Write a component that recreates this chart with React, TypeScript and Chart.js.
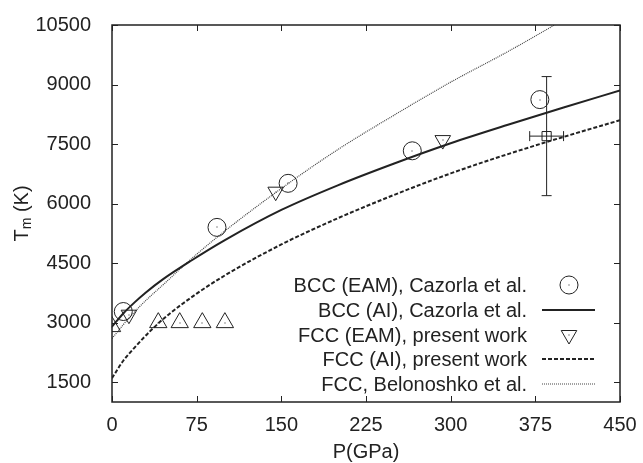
import React, { useEffect, useRef } from "react";
import { Chart, registerables } from "chart.js";

Chart.register(...registerables);

// ---- data ----
const xTicks = [0, 75, 150, 225, 300, 375, 450];
const yTicks = [1500, 3000, 4500, 6000, 7500, 9000, 10500];

const legendLabels = [
  "BCC (EAM), Cazorla et al.",
  "BCC (AI), Cazorla et al.",
  "FCC (EAM), present work",
  "FCC (AI), present work",
  "FCC, Belonoshko et al.",
];

const bccEamP = [10, 93, 156, 266, 379];
const bccEamT = [3280, 5400, 6510, 7330, 8620];

const bccAiP = [0, 10, 20, 30, 45, 70, 100, 150, 200, 250, 300, 350, 400, 450];
const bccAiT = [2900, 3230, 3510, 3760, 4090, 4560, 5080, 5840, 6460, 7010, 7520, 7980, 8420, 8850];

const fccEamP = [15, 145, 293];
const fccEamT = [3200, 6300, 7600];

const fccAiP = [0, 10, 20, 35, 50, 75, 100, 150, 200, 250, 300, 350, 400, 450];
const fccAiT = [1600, 2040, 2370, 2820, 3200, 3730, 4190, 4970, 5630, 6220, 6760, 7240, 7680, 8100];

const belP = [0, 10, 25, 47, 70, 100, 150, 200, 250, 300, 350, 392, 400];
const belT = [2600, 2950, 3420, 4000, 4600, 5310, 6380, 7360, 8230, 9060, 9820, 10500, 10630];

const fccOtherP = [0, 41, 60, 80, 100];
const fccOtherT = [2900, 3000, 3000, 3000, 3000];

const errP = [385];
const errT = [7700];
const errPLow = [370];
const errPHigh = [400];
const errTLow = [6200];
const errTHigh = [9200];

const FONT = '"Liberation Sans", Arial, Helvetica, sans-serif';
const FS = 20;
const INK = "#222";

const pts = (xs: number[], ys: number[]) => xs.map((v, i) => ({ x: v, y: ys[i] }));

const decorPlugin = {
  id: "decor",
  afterDatasetsDraw(chart: any) {
    const { ctx, chartArea: a, scales } = chart;
    const x = scales.x;
    const y = scales.y;
    ctx.save();
    ctx.strokeStyle = INK;
    ctx.fillStyle = INK;

    // error bars
    ctx.lineWidth = 1;
    for (let i = 0; i < errP.length; i++) {
      const px = x.getPixelForValue(errP[i]);
      const py = y.getPixelForValue(errT[i]);
      const yl = y.getPixelForValue(errTLow[i]);
      const yh = y.getPixelForValue(errTHigh[i]);
      const xl = x.getPixelForValue(errPLow[i]);
      const xh = x.getPixelForValue(errPHigh[i]);
      ctx.beginPath();
      ctx.moveTo(px, yl); ctx.lineTo(px, yh);
      ctx.moveTo(px - 5, yl); ctx.lineTo(px + 5, yl);
      ctx.moveTo(px - 5, yh); ctx.lineTo(px + 5, yh);
      ctx.moveTo(xl, py); ctx.lineTo(xh, py);
      ctx.moveTo(xl, py - 5); ctx.lineTo(xl, py + 5);
      ctx.moveTo(xh, py - 5); ctx.lineTo(xh, py + 5);
      ctx.stroke();
    }

    // centre dots of open markers
    const dotP = [...bccEamP, ...fccEamP, ...fccOtherP];
    const dotT = [...bccEamT, ...fccEamT, ...fccOtherT];
    for (let i = 0; i < dotP.length; i++) {
      const px = x.getPixelForValue(dotP[i]);
      const py = y.getPixelForValue(dotT[i]);
      ctx.fillRect(Math.round(px) - 0.5, Math.round(py) - 0.5, 1, 1);
    }

    // frame
    ctx.lineWidth = 1.5;
    ctx.strokeRect(a.left, a.top, a.right - a.left, a.bottom - a.top);

    // inward ticks, mirrored
    ctx.lineWidth = 1;
    ctx.beginPath();
    xTicks.forEach((v) => {
      const px = Math.round(x.getPixelForValue(v)) + 0.5;
      ctx.moveTo(px, a.bottom); ctx.lineTo(px, a.bottom - 6);
      ctx.moveTo(px, a.top); ctx.lineTo(px, a.top + 6);
    });
    yTicks.forEach((v) => {
      const py = Math.round(y.getPixelForValue(v)) + 0.5;
      ctx.moveTo(a.left, py); ctx.lineTo(a.left + 6, py);
      ctx.moveTo(a.right, py); ctx.lineTo(a.right - 6, py);
    });
    ctx.stroke();

    // legend (inside, bottom right)
    const textRight = a.right - 93;
    const sx1 = a.right - 78;
    const sx2 = a.right - 25;
    const sym = a.right - 51;
    const rows = [117, 92, 67, 43, 18].map((d) => a.bottom - d);
    ctx.font = `${FS}px ${FONT}`;
    ctx.textAlign = "right";
    ctx.textBaseline = "middle";
    legendLabels.forEach((t, i) => ctx.fillText(t, textRight, rows[i] + 1));

    // symbols
    ctx.lineWidth = 1;
    ctx.beginPath();
    ctx.arc(sym, rows[0], 9, 0, Math.PI * 2);
    ctx.stroke();
    ctx.fillRect(sym - 0.5, rows[0] - 0.5, 1, 1);

    ctx.lineWidth = 2;
    ctx.beginPath();
    ctx.moveTo(sx1, rows[1]); ctx.lineTo(sx2, rows[1]);
    ctx.stroke();

    ctx.lineWidth = 1;
    const r = 9;
    ctx.beginPath();
    ctx.moveTo(sym, rows[2] + r);
    ctx.lineTo(sym + r * Math.sin((2 * Math.PI) / 3), rows[2] - r * 0.5);
    ctx.lineTo(sym - r * Math.sin((2 * Math.PI) / 3), rows[2] - r * 0.5);
    ctx.closePath();
    ctx.stroke();
    ctx.fillRect(sym - 0.5, rows[2] - 0.5, 1, 1);

    ctx.lineWidth = 2;
    ctx.setLineDash([4, 2]);
    ctx.beginPath();
    ctx.moveTo(sx1, rows[3]); ctx.lineTo(sx2, rows[3]);
    ctx.stroke();

    ctx.lineWidth = 1.2;
    ctx.strokeStyle = "#444";
    ctx.setLineDash([1, 1]);
    ctx.beginPath();
    ctx.moveTo(sx1, rows[4]); ctx.lineTo(sx2, rows[4]);
    ctx.stroke();
    ctx.setLineDash([]);
    ctx.strokeStyle = INK;

    // x title
    ctx.textAlign = "center";
    ctx.textBaseline = "middle";
    ctx.fillText("P(GPa)", (a.left + a.right) / 2, 452);

    // y title with subscript
    ctx.save();
    ctx.translate(22, (a.top + a.bottom) / 2);
    ctx.rotate(-Math.PI / 2);
    const fSmall = `${Math.round(FS * 0.72)}px ${FONT}`;
    const fBig = `${FS}px ${FONT}`;
    ctx.font = fBig;
    const wT = ctx.measureText("T").width;
    const wK = ctx.measureText(" (K)").width;
    ctx.font = fSmall;
    const wm = ctx.measureText("m").width;
    const total = wT + wm + wK;
    let cx = -total / 2;
    ctx.textAlign = "left";
    ctx.textBaseline = "middle";
    ctx.font = fBig;
    ctx.fillText("T", cx, 0);
    cx += wT;
    ctx.font = fSmall;
    ctx.fillText("m", cx, 5);
    cx += wm;
    ctx.font = fBig;
    ctx.fillText(" (K)", cx, 0);
    ctx.restore();

    ctx.restore();
  },
};

export default function App() {
  const ref = useRef<HTMLCanvasElement | null>(null);
  useEffect(() => {
    document.body.style.margin = "0";
    if (!ref.current) return;
    const chart = new Chart(ref.current, {
      type: "scatter",
      data: {
        datasets: [
          {
            label: legendLabels[0],
            data: pts(bccEamP, bccEamT),
            pointStyle: "circle",
            pointRadius: 9,
            pointBorderWidth: 1,
            pointBorderColor: INK,
            pointBackgroundColor: "rgba(0,0,0,0)",
            showLine: false,
          },
          {
            label: legendLabels[2],
            data: pts(fccEamP, fccEamT),
            pointStyle: "triangle",
            rotation: 180,
            pointRadius: 9,
            pointBorderWidth: 1,
            pointBorderColor: INK,
            pointBackgroundColor: "rgba(0,0,0,0)",
            showLine: false,
          },
          {
            label: "FCC (EAM) other",
            data: pts(fccOtherP, fccOtherT),
            pointStyle: "triangle",
            pointRadius: 10,
            pointBorderWidth: 1,
            pointBorderColor: INK,
            pointBackgroundColor: "rgba(0,0,0,0)",
            showLine: false,
          },
          {
            label: "error point",
            data: pts(errP, errT),
            pointStyle: "rect",
            pointRadius: 6.5,
            pointBorderWidth: 1,
            pointBorderColor: INK,
            pointBackgroundColor: "rgba(0,0,0,0)",
            showLine: false,
          },
          {
            label: legendLabels[1],
            data: pts(bccAiP, bccAiT),
            showLine: true,
            borderColor: INK,
            borderWidth: 2,
            pointRadius: 0,
            cubicInterpolationMode: "monotone",
          },
          {
            label: legendLabels[3],
            data: pts(fccAiP, fccAiT),
            showLine: true,
            borderColor: INK,
            borderWidth: 2,
            borderDash: [4, 2],
            pointRadius: 0,
            cubicInterpolationMode: "monotone",
          },
          {
            label: legendLabels[4],
            data: pts(belP, belT),
            showLine: true,
            borderColor: "#444",
            borderWidth: 1.2,
            borderDash: [1, 1],
            pointRadius: 0,
            cubicInterpolationMode: "monotone",
          },
        ],
      },
      options: {
        responsive: false,
        animation: false,
        events: [],
        layout: { padding: { top: 18, right: 23, left: 0, bottom: 0 } },
        plugins: { legend: { display: false }, tooltip: { enabled: false } },
        scales: {
          x: {
            type: "linear",
            min: 0,
            max: 450,
            afterBuildTicks: (s: any) => {
              s.ticks = xTicks.map((v) => ({ value: v }));
            },
            afterFit: (s: any) => {
              s.height = 61;
            },
            grid: { display: false },
            border: { display: false },
            ticks: {
              color: INK,
              font: { family: FONT, size: FS },
              padding: 3,
              maxRotation: 0,
              autoSkip: false,
              callback: (v: any) => String(v),
            },
          },
          y: {
            type: "linear",
            min: 1000,
            max: 10500,
            afterBuildTicks: (s: any) => {
              s.ticks = yTicks.map((v) => ({ value: v }));
            },
            afterFit: (s: any) => {
              s.width = 112;
            },
            grid: { display: false },
            border: { display: false },
            ticks: {
              color: INK,
              font: { family: FONT, size: FS },
              padding: 13,
              autoSkip: false,
              callback: (v: any) => String(v),
            },
          },
        },
      },
      plugins: [decorPlugin],
    });
    return () => chart.destroy();
  }, []);
  return <canvas ref={ref} width={643} height={463} style={{ display: "block" }} />;
}
